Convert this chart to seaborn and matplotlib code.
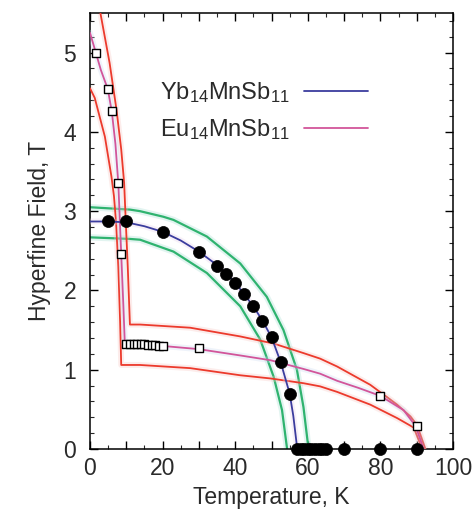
import matplotlib
matplotlib.use("Agg")
import matplotlib.pyplot as plt
import seaborn as sns
import pandas as pd
from matplotlib.lines import Line2D
from matplotlib.ticker import MultipleLocator, FuncFormatter

# ---------------- data ----------------
# Yb14MnSb11 measured hyperfine field (filled circles)
yb_T = [5, 10, 20, 30, 35, 37.5, 40, 42.5, 45, 47.5, 50, 52.5, 55,
        57, 58, 59, 60, 61, 62, 63, 64, 65, 70, 80, 90]
yb_H = [2.87, 2.87, 2.74, 2.49, 2.31, 2.21, 2.10, 1.95, 1.80, 1.61, 1.41, 1.10, 0.70,
        0, 0, 0, 0, 0, 0, 0, 0, 0, 0, 0, 0]

# Eu14MnSb11 measured hyperfine field (open squares)
eu_T = [1.6, 4.9, 6.0, 7.8, 8.6, 10, 11, 12, 13, 14, 15, 16, 17, 18, 19, 20, 30, 80, 90]
eu_H = [5.00, 4.54, 4.26, 3.35, 2.46, 1.33, 1.33, 1.32, 1.32, 1.32, 1.32, 1.31, 1.31,
        1.31, 1.30, 1.30, 1.27, 0.67, 0.29]

# Yb fit curve (blue) and its band (green)
yb_fit_T = [0, 5, 10, 15, 20, 25, 30, 35, 40, 45, 47.5, 50, 52.5, 55, 56, 57.1]
yb_fit_H = [2.87, 2.87, 2.86, 2.81, 2.74, 2.63, 2.49, 2.32, 2.10, 1.80, 1.62, 1.41, 1.10, 0.70, 0.42, 0.0]

yb_hi_T = [0, 11, 13.8, 20.2, 23, 32.2, 41.4, 48.7, 53.3, 57.0, 58.8, 60.2]
yb_hi_H = [3.05, 3.02, 3.00, 2.93, 2.89, 2.68, 2.34, 1.92, 1.50, 1.00, 0.53, 0.0]

yb_lo_T = [0, 11, 13.8, 23, 32.2, 41.4, 46.9, 50.6, 52.9, 54.3]
yb_lo_H = [2.67, 2.65, 2.64, 2.49, 2.22, 1.80, 1.38, 0.91, 0.49, 0.0]

# Eu fit curve (magenta) and its band (red)
eu_fit_T = [0, 1.6, 3, 4.9, 6.0, 7.0, 7.8, 8.6, 9.2, 9.6, 13.8, 20, 29.9, 41.4, 49.7,
            58.8, 63.4, 68.1, 74, 80, 86.4, 89.7, 91.9]
eu_fit_H = [5.25, 5.00, 4.78, 4.54, 4.26, 3.85, 3.35, 2.46, 1.80, 1.32, 1.31, 1.30, 1.26,
            1.18, 1.12, 1.01, 0.95, 0.86, 0.77, 0.67, 0.49, 0.29, 0.0]

eu_hi_T = [2.3, 2.7, 5.4, 7.3, 8.6, 9.4, 9.8, 10.4, 11.0, 13.8, 27.6, 41.4, 50.6, 58.8,
           63.4, 68.1, 77.2, 84.6, 88.3, 90.1, 92.4]
eu_hi_H = [5.70, 5.54, 4.87, 4.28, 3.78, 3.36, 2.93, 2.30, 1.57, 1.57, 1.53, 1.42, 1.33, 1.21,
           1.14, 1.04, 0.81, 0.56, 0.41, 0.30, 0.0]

eu_lo_T = [0, 1.3, 4.1, 5.9, 6.6, 7.2, 7.8, 8.3, 8.6, 13.8, 27.6, 41.4, 49.7, 58.8,
           63.4, 68.1, 77.2, 84.6, 89.2, 91.5]
eu_lo_H = [4.55, 4.43, 3.94, 3.44, 3.19, 2.85, 2.30, 1.60, 1.06, 1.06, 1.02, 0.93, 0.89, 0.83,
           0.79, 0.72, 0.56, 0.39, 0.27, 0.0]

legend_labels = [r"Yb$_{14}$MnSb$_{11}$", r"Eu$_{14}$MnSb$_{11}$"]
x_label = "Temperature, K"
y_label = "Hyperfine Field, T"

# ---------------- style ----------------
sns.set_theme(style="ticks")
plt.rcParams["font.family"] = ["Liberation Sans", "DejaVu Sans"]
plt.rcParams["mathtext.fontset"] = "custom"
plt.rcParams["mathtext.rm"] = "Liberation Sans"
plt.rcParams["mathtext.it"] = "Liberation Sans:italic"
plt.rcParams["mathtext.bf"] = "Liberation Sans:bold"

FS_TICK = 16.5
FS_LAB = 16.5
FS_LEG = 17
TXT = "#2a2a2a"
C_BLUE = "#3b3d9e"
C_GREEN = "#2fb36f"
C_MAG = "#d2559a"
C_RED = "#ec3a2c"

fig = plt.figure(figsize=(4.75, 5.21), dpi=100)
ax = fig.add_axes([90 / 475, 1 - 449 / 521, (453 - 90) / 475, (449 - 13) / 521])


def curve(T, H, color, lw, z, halo=None):
    df = pd.DataFrame({"T": T, "H": H})
    if halo is not None:
        sns.lineplot(data=df, x="T", y="H", sort=False, estimator=None, ax=ax,
                     color=halo, lw=lw + 3.0, alpha=0.3, zorder=z - 0.5)
    sns.lineplot(data=df, x="T", y="H", sort=False, estimator=None, ax=ax,
                 color=color, lw=lw, zorder=z)


curve(yb_hi_T, yb_hi_H, C_GREEN, 1.6, 2, halo="#9fdcd0")
curve(yb_lo_T, yb_lo_H, C_GREEN, 1.6, 2, halo="#9fdcd0")
curve(eu_hi_T, eu_hi_H, C_RED, 1.3, 3, halo="#f7c3bd")
curve(eu_lo_T, eu_lo_H, C_RED, 1.3, 3, halo="#f7c3bd")
curve(eu_fit_T, eu_fit_H, C_MAG, 1.3, 4, halo="#c9d8f0")
curve(yb_fit_T, yb_fit_H, C_BLUE, 1.3, 4, halo="#e6d0ea")

sns.scatterplot(x=yb_T, y=yb_H, ax=ax, marker="o", s=75, color="black",
                edgecolor="black", linewidth=0.5, zorder=6, clip_on=False)
sns.scatterplot(x=eu_T, y=eu_H, ax=ax, marker="s", s=40, facecolor="white",
                edgecolor="black", linewidth=1.0, zorder=7, clip_on=False)

ax.set_xlim(0, 100)
ax.set_ylim(0, 5.5)

ax.xaxis.set_major_locator(MultipleLocator(10))
ax.xaxis.set_minor_locator(MultipleLocator(5))
ax.xaxis.set_major_formatter(FuncFormatter(lambda v, p: f"{v:.0f}" if round(v) % 20 == 0 else ""))
ax.yaxis.set_major_locator(MultipleLocator(1))
ax.yaxis.set_minor_locator(MultipleLocator(0.2))

ax.tick_params(axis="both", which="major", direction="in", length=6, width=1.0,
               top=True, right=True, labelsize=FS_TICK, colors="black", labelcolor=TXT)
ax.tick_params(axis="both", which="minor", direction="in", length=3, width=0.8,
               top=True, right=True)
ax.tick_params(axis="x", which="major", pad=6)
ax.tick_params(axis="y", which="major", pad=10)

for sp in ax.spines.values():
    sp.set_visible(True)
    sp.set_color("black")
    sp.set_linewidth(1.1)

ax.set_xlabel(x_label, fontsize=FS_LAB, labelpad=4, color=TXT)
ax.set_ylabel(y_label, fontsize=FS_LAB, labelpad=9, color=TXT)

handles = [Line2D([], [], color=C_BLUE, lw=1.3),
           Line2D([], [], color=C_MAG, lw=1.3)]
ax.legend(handles, legend_labels, loc="center", bbox_to_anchor=(0.48, 0.775),
          frameon=False, markerfirst=False, fontsize=FS_LEG, handlelength=2.7,
          handletextpad=0.6, labelspacing=0.5, labelcolor=TXT)

fig.savefig("out.png", dpi=100, facecolor="white")
